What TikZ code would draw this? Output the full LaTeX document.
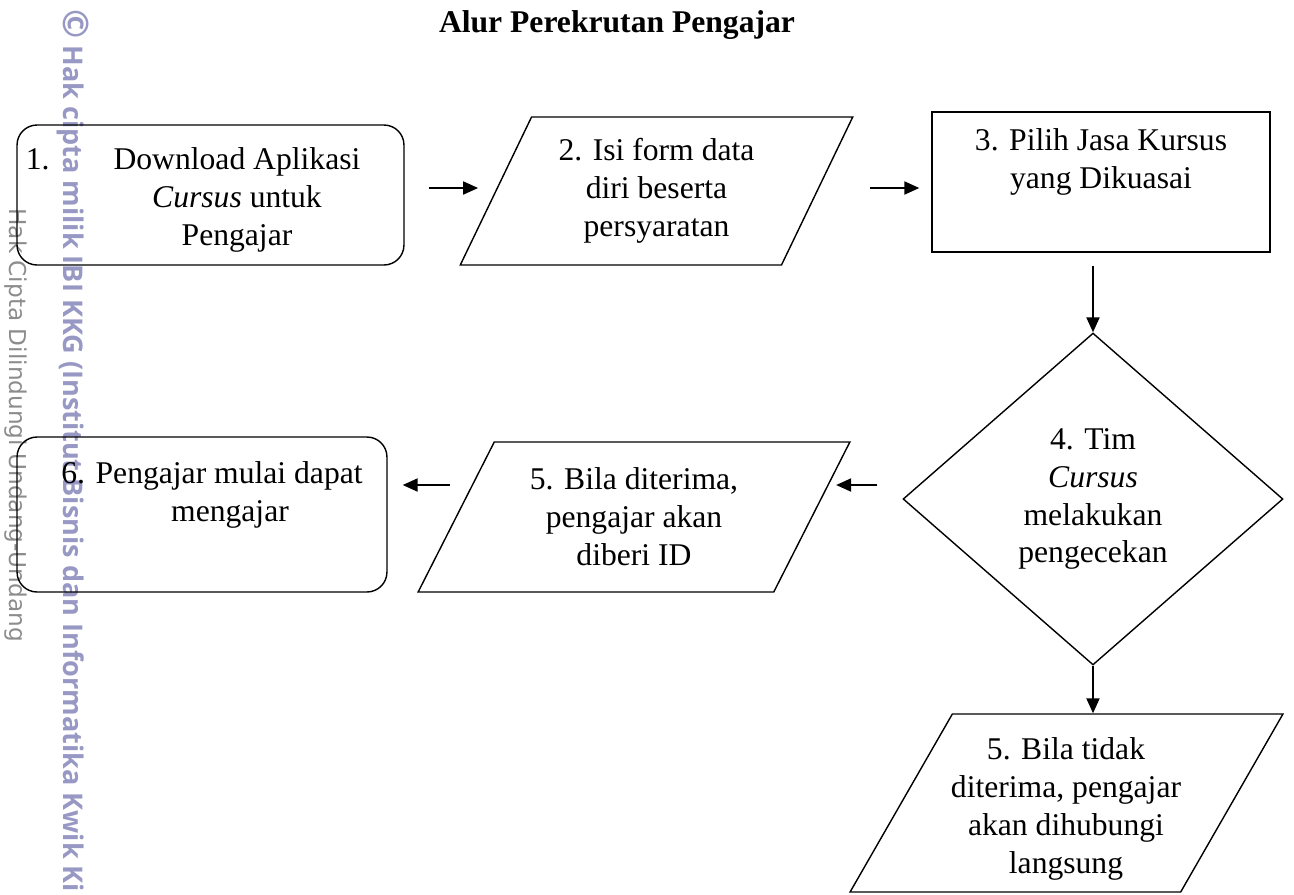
\documentclass[tikz,border=0pt]{standalone}
\usepackage{fontspec}
\setmainfont{Liberation Serif}
\newfontfamily\wmbold{Open Sans}
\newfontfamily\wmlight{DejaVu Sans}
\usetikzlibrary{shapes.geometric, arrows.meta, positioning, calc}
\definecolor{wmblue}{RGB}{152,152,196}

\begin{document}
\begin{tikzpicture}[
    x=0.02cm, y=-0.02cm,
    % Define styles for consistency
    every node/.style={font=\fontsize{18}{21.6}\selectfont},
    roundbox/.style={draw, line width=0.8pt, rounded corners=0.4cm, inner sep=0pt},
    squarebox/.style={draw, line width=0.8pt, inner sep=0pt},
    databox/.style={draw, line width=0.8pt, trapezium, trapezium stretches, align=center, inner sep=0pt},
    decision/.style={draw, line width=0.8pt, diamond, align=center, inner sep=0pt},
    box_text/.style={align=center, inner sep=0pt},
    flow/.style={-{Triangle[length=0.3cm, width=0.26cm]}, line width=1.1pt},
    watermark/.style={rotate=-90, anchor=west, inner sep=0pt}
]
    \useasboundingbox (0,0) rectangle (1294,894);

    % ---------------------------------------------------------
    % 1. Watermark (left margin)
    % ---------------------------------------------------------
    \node[watermark, font=\wmbold\bfseries\fontsize{15.4}{17}\selectfont, text=wmblue] (wm_owner) at (73,9)
        {{\fontsize{20}{20}\selectfont ©} Hak cipta milik IBI KKG (Institut Bisnis dan Informatika Kwik Ki};
    \node[watermark, font=\wmlight\fontsize{13.2}{15}\selectfont, text=black!45] (wm_law) at (16,208)
        {Hak Cipta Dilindungi Undang-Undang};

    % ---------------------------------------------------------
    % 2. Title
    % ---------------------------------------------------------
    \node[font=\fontsize{18}{21.6}\selectfont\bfseries] (title) at (617,25) {Alur Perekrutan Pengajar};

    % ---------------------------------------------------------
    % 3. Steps
    % ---------------------------------------------------------
    % --- Step 1: download ---
    \node[roundbox, minimum width=7.74cm, minimum height=2.8cm] (download) at (210.5,195) {};
    \node[box_text] (download_text) at (237,200)
        {\llap{1.\hspace{1.28cm}}Download Aplikasi\\ \textit{Cursus} untuk\\ Pengajar};

    % --- Step 2: form ---
    \node[databox, trapezium left angle=62, trapezium right angle=118,
          minimum width=7.86cm, minimum height=2.96cm] (form) at (656.5,191)
        {2. Isi form data\\ diri beserta\\ persyaratan};

    % --- Step 3: course choice ---
    \node[squarebox, minimum width=6.76cm, minimum height=2.8cm] (course) at (1101,182) {};
    \node[box_text] (course_text) at (1101,162) {3. Pilih Jasa Kursus\\ yang Dikuasai};

    % --- Step 4: check (decision) ---
    \node[decision, minimum width=7.6cm, minimum height=6.64cm] (check) at (1093,499)
        {4. Tim\\ \textit{Cursus}\\ melakukan\\ pengecekan};

    % --- Step 5: accepted ---
    \node[databox, trapezium left angle=60, trapezium right angle=120,
          minimum width=8.64cm, minimum height=3cm] (accepted) at (634,517)
        {5. Bila diterima,\\ pengajar akan\\ diberi ID};

    % --- Step 5: rejected ---
    \node[databox, trapezium left angle=64, trapezium right angle=116,
          minimum width=8.66cm, minimum height=3.56cm] (rejected) at (1066.5,803) {\phantom{x}};
    \node[box_text] (rejected_text) at (1066,809)
        {5. Bila tidak\\ diterima, pengajar\\ akan dihubungi\\ langsung};

    % --- Step 6: teach ---
    \node[roundbox, minimum width=7.4cm, minimum height=3.1cm] (teach) at (202,514.5) {};
    \node[box_text] (teach_text) at (212,495) {6. Pengajar mulai dapat\\ \hspace*{0.72cm}mengajar};

    % ---------------------------------------------------------
    % 4. Arrows
    % ---------------------------------------------------------
    \draw[flow] ($(download.east)+(24,-7)$) -- ($(download.east -| form.west)+(-17,-7)$);
    \draw[flow] ($(form.east)+(52,-3)$) -- ($(form.east -| course.west)+(-12,-3)$);
    \draw[flow] ($(course.south -| check.north)+(0,13)$) -- (check.north);
    \draw[flow] ($(check.west)+(-25,-14)$) -- ($(check.west -| accepted.east)+(23.5,-14)$);
    \draw[flow] ($(accepted.west)+(-5.5,-32)$) -- ($(accepted.west -| teach.east)+(15,-32)$);
    \draw[flow] (check.south) -- (check.south |- rejected.north);
\end{tikzpicture}
\end{document}
